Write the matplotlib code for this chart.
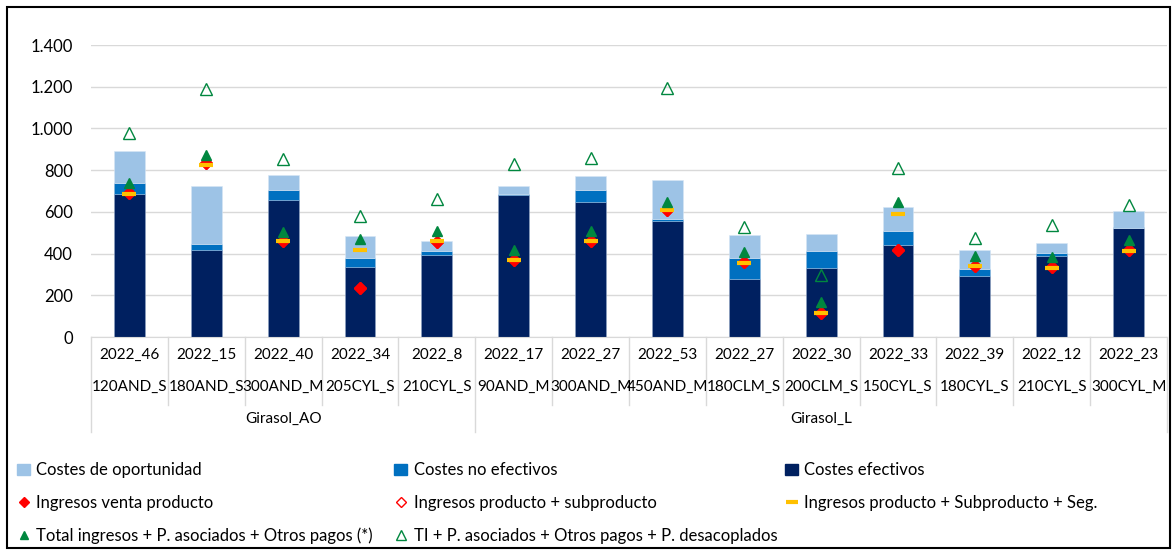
import numpy as np
import matplotlib
matplotlib.use("Agg")
import matplotlib.pyplot as plt
from matplotlib.lines import Line2D
from matplotlib.patches import Patch, Rectangle

plt.rcParams['font.family'] = ['Lato', 'DejaVu Sans']
plt.rcParams['font.size'] = 11

# datos
codigos = ['2022_46', '2022_15', '2022_40', '2022_34', '2022_8', '2022_17', '2022_27',
           '2022_53', '2022_27', '2022_30', '2022_33', '2022_39', '2022_12', '2022_23']
explotaciones = ['120AND_S', '180AND_S', '300AND_M', '205CYL_S', '210CYL_S', '90AND_M', '300AND_M',
                 '450AND_M', '180CLM_S', '200CLM_S', '150CYL_S', '180CYL_S', '210CYL_S', '300CYL_M']
grupos = ['Girasol_AO', 'Girasol_L']
n_grupo = [5, 9]

costes_efectivos = [688, 415, 655, 336, 395, 682, 648, 557, 280, 333, 442, 293, 389, 522]
costes_no_efectivos = [50, 30, 49, 43, 16, 3, 55, 11, 101, 77, 64, 35, 16, 3]
costes_oportunidad = [153, 278, 72, 104, 50, 38, 70, 183, 106, 83, 115, 87, 48, 78]

ingresos_venta = [691, 832, 461, 234, 455, 370, 461, 608, 360, 115, 419, 341, 335, 416]
ingresos_prod_sub = [691, 832, 461, 234, 455, 370, 461, 608, 360, 115, 419, 341, 335, 416]
ingresos_seg = [688, 824, 459, 419, 460, 368, 459, 611, 357, 117, 592, 341, 333, 414]
total_ingresos = [739, 872, 504, 469, 506, 419, 509, 645, 407, 168, 645, 387, 383, 467]
ti_desacoplados = [976, 1187, 854, 581, 661, 830, 859, 1192, 528, 295, 811, 475, 539, 634]

c_oport = '#9DC3E6'
c_noef = '#0070C0'
c_ef = '#002060'
c_verde = '#00873F'

W, H = 1173, 551
fig = plt.figure(figsize=(W / 100, H / 100), dpi=100)
ax = fig.add_axes([91 / W, 1 - 337 / H, (1167 - 91) / W, (337 - 45) / H])

x = np.arange(len(codigos))
ef = np.array(costes_efectivos)
noef = np.array(costes_no_efectivos)
ax.bar(x, ef, 0.4, color=c_ef, edgecolor='#8FA3C4', linewidth=0.4, zorder=2)
ax.bar(x, noef, 0.4, bottom=ef, color=c_noef, edgecolor='#8FB8DD', linewidth=0.4, zorder=2)
ax.bar(x, costes_oportunidad, 0.4, bottom=ef + noef, color=c_oport, edgecolor='#D6E6F5',
       linewidth=0.4, zorder=2)

ax.plot(x, ingresos_venta, 'D', color='red', ms=6, ls='none', zorder=3)
ax.plot(x, ingresos_prod_sub, 'D', mec='red', mfc='none', ms=6, ls='none', zorder=3)
ax.plot(x, ingresos_seg, '_', color='#FFC000', ms=10, mew=3, ls='none', zorder=4)
ax.plot(x, total_ingresos, '^', color=c_verde, ms=7.5, ls='none', zorder=5)
ax.plot(x, ti_desacoplados, '^', mec=c_verde, mfc='none', mew=1, ms=9, ls='none', zorder=5)

ax.set_xlim(-0.5, len(codigos) - 0.5)
ax.set_ylim(0, 1400)
ax.set_yticks(range(0, 1401, 200))
ax.set_yticklabels(['0', '200', '400', '600', '800', '1.000', '1.200', '1.400'])
ax.yaxis.grid(True, color='#D9D9D9', linewidth=1)
ax.set_axisbelow(True)
for s in ['top', 'right', 'left']:
    ax.spines[s].set_visible(False)
ax.spines['bottom'].set_color('#D9D9D9')
ax.tick_params(axis='y', length=0, pad=13, labelsize=12)
ax.set_xticks([])

# etiquetas del eje de categorías (dos niveles + grupo)
tr = ax.get_xaxis_transform()
for i in range(len(codigos)):
    ax.annotate(codigos[i], (i, 0), xycoords=tr, xytext=(0, -18), textcoords='offset pixels',
                ha='center', va='center', fontsize=11)
    ax.annotate(explotaciones[i], (i, 0), xycoords=tr, xytext=(0, -50), textcoords='offset pixels',
                ha='center', va='center', fontsize=11)

inicio = 0
limites_grupo = [-0.5]
for g, n in zip(grupos, n_grupo):
    centro = inicio + (n - 1) / 2
    ax.annotate(g, (centro, 0), xycoords=tr, xytext=(0, -82), textcoords='offset pixels',
                ha='center', va='center', fontsize=11)
    inicio += n
    limites_grupo.append(inicio - 0.5)

for b in np.arange(-0.5, len(codigos), 1.0):
    largo = 95 if b in limites_grupo else 68
    ax.add_line(Line2D([b, b], [0, -largo / (337 - 45)], transform=tr, color='#D9D9D9',
                       linewidth=1, clip_on=False))

# leyenda (tres columnas)
col1 = [(Patch(color=c_oport), 'Costes de oportunidad'),
        (Line2D([], [], marker='D', color='red', ls='none', ms=5), 'Ingresos venta producto'),
        (Line2D([], [], marker='^', color=c_verde, ls='none', ms=6),
         'Total ingresos + P. asociados + Otros pagos (*)')]
col2 = [(Patch(color=c_noef), 'Costes no efectivos'),
        (Line2D([], [], marker='D', mec='red', mfc='none', ls='none', ms=5), 'Ingresos producto + subproducto'),
        (Line2D([], [], marker='^', mec=c_verde, mfc='none', ls='none', ms=7),
         'TI + P. asociados + Otros pagos + P. desacoplados')]
col3 = [(Patch(color=c_ef), 'Costes efectivos'),
        (Line2D([], [], marker='_', color='#FFC000', ls='none', ms=9, mew=3),
         'Ingresos producto + Subproducto + Seg.')]
for col, px in [(col1, 9), (col2, 386), (col3, 777)]:
    fig.legend([h for h, _ in col], [l for _, l in col], loc='upper left',
               bbox_to_anchor=(px / W, 1 - 454 / H), frameon=False, fontsize=12,
               handlelength=0.75, handletextpad=0.4, labelspacing=1.0, borderpad=0)

fig.patches.append(Rectangle((7 / W, 1 - 548 / H), (1170 - 7) / W, (548 - 7) / H,
                             transform=fig.transFigure, fill=False, edgecolor='black', linewidth=1.5))

fig.savefig('out.png', dpi=100)
